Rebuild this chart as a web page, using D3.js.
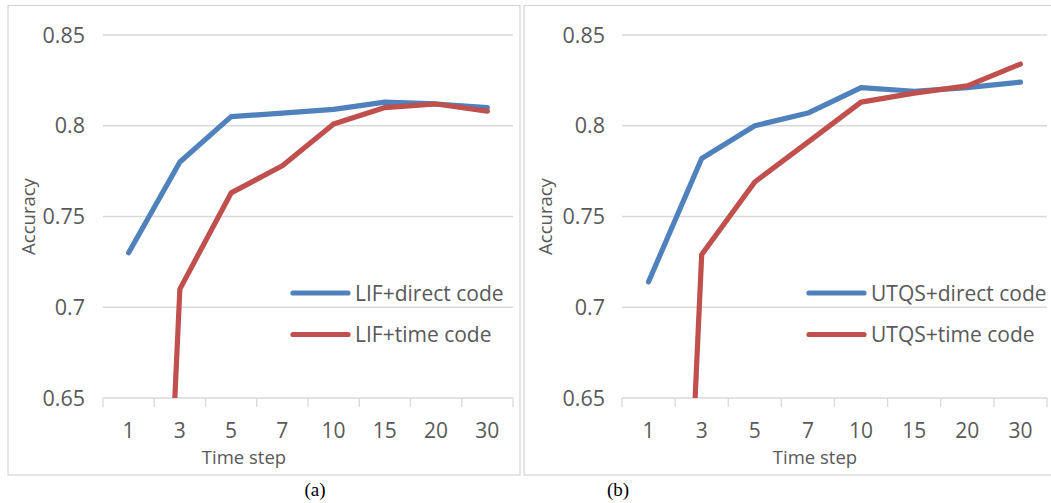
<!DOCTYPE html>
<html>
<head>
<meta charset="utf-8">
<script src="https://cdn.jsdelivr.net/npm/d3@7"></script>
<style>
  body { margin: 0; background: #fff; }
  text { font-family: "Open Sans", sans-serif; fill: #595959; }
</style>
</head>
<body>
<div id="chart"></div>
<script>
// time steps shared by both panels
var steps = ["1", "3", "5", "7", "10", "15", "20", "30"];
var yTicks = [0.65, 0.7, 0.75, 0.8, 0.85];

// (a) LIF neurons
var lifDirect = [0.730, 0.780, 0.805, 0.807, 0.809, 0.813, 0.812, 0.810];
var lifTime = [0.10, 0.710, 0.763, 0.778, 0.801, 0.810, 0.812, 0.808];

// (b) UTQS neurons
var utqsDirect = [0.714, 0.782, 0.800, 0.807, 0.821, 0.819, 0.821, 0.824];
var utqsTime = [0.09, 0.729, 0.769, 0.791, 0.813, 0.818, 0.822, 0.834];

var blue = "#4f81bd", red = "#c0504d";

var svg = d3.select("#chart").append("svg")
    .attr("width", 1051)
    .attr("height", 503);

var panels = [
    { id: "a", box: [8, 5.5, 520, 475], x0: 103, x1: 513, labelX: 85, accX: 29, titleX: 244,
      caption: "(a)", capX: 315, legX: 293,
      series: [{ name: "LIF+direct code", vals: lifDirect, color: blue },
               { name: "LIF+time code", vals: lifTime, color: red }] },
    { id: "b", box: [524, 5.5, 1060, 475], x0: 622, x1: 1047, labelX: 605, accX: 546, titleX: 815,
      caption: "(b)", capX: 618, legX: 809,
      series: [{ name: "UTQS+direct code", vals: utqsDirect, color: blue },
               { name: "UTQS+time code", vals: utqsTime, color: red }] }
];

panels.forEach(function (p) {
    var g = svg.append("g");

    // frame
    g.append("rect")
        .attr("x", p.box[0]).attr("y", p.box[1])
        .attr("width", p.box[2] - p.box[0]).attr("height", p.box[3] - p.box[1])
        .attr("fill", "none").attr("stroke", "#d9d9d9").attr("stroke-width", 1.3);

    var x = d3.scaleBand().domain(steps).range([p.x0, p.x1]);
    var y = d3.scaleLinear().domain([0.65, 0.85]).range([398, 35]);

    // gridlines
    g.selectAll(".grid")
        .data(yTicks.slice(1))
        .enter().append("line")
        .attr("x1", p.x0).attr("x2", p.x1)
        .attr("y1", function (d) { return y(d); })
        .attr("y2", function (d) { return y(d); })
        .attr("stroke", "#d9d9d9").attr("stroke-width", 1.3);

    // y labels
    g.selectAll(".ylab")
        .data(yTicks)
        .enter().append("text")
        .attr("x", p.labelX)
        .attr("y", function (d) { return y(d); })
        .attr("dy", "0.36em")
        .attr("text-anchor", "end")
        .style("font-size", "21.5px")
        .text(function (d) { return String(d); });

    // x axis line + boundary ticks
    g.append("line")
        .attr("x1", p.x0).attr("x2", p.x1)
        .attr("y1", y(0.65)).attr("y2", y(0.65))
        .attr("stroke", "#d9d9d9").attr("stroke-width", 1.3);

    g.selectAll(".xtick")
        .data(d3.range(steps.length + 1))
        .enter().append("line")
        .attr("x1", function (i) { return p.x0 + i * x.step(); })
        .attr("x2", function (i) { return p.x0 + i * x.step(); })
        .attr("y1", y(0.65)).attr("y2", y(0.65) + 9)
        .attr("stroke", "#d9d9d9").attr("stroke-width", 1.3);

    g.selectAll(".xlab")
        .data(steps)
        .enter().append("text")
        .attr("x", function (d) { return x(d) + x.bandwidth() / 2; })
        .attr("y", 437.5)
        .attr("text-anchor", "middle")
        .style("font-size", "21px")
        .text(function (d) { return d; });

    // axis titles
    g.append("text")
        .attr("x", p.titleX).attr("y", 464)
        .attr("text-anchor", "middle")
        .style("font-size", "18.5px")
        .text("Time step");

    g.append("text")
        .attr("transform", "translate(" + (p.accX + 6) + ",216.5) rotate(-90)")
        .attr("text-anchor", "middle")
        .style("font-size", "18.5px")
        .text("Accuracy");

    // lines, clipped to plot area
    g.append("clipPath").attr("id", "clip" + p.id)
        .append("rect")
        .attr("x", p.x0).attr("y", 0)
        .attr("width", p.x1 - p.x0).attr("height", y(0.65));

    var line = d3.line()
        .x(function (d, i) { return x(steps[i]) + x.bandwidth() / 2; })
        .y(function (d) { return y(d); });

    p.series.forEach(function (s) {
        g.append("path")
            .attr("clip-path", "url(#clip" + p.id + ")")
            .attr("d", line(s.vals))
            .attr("fill", "none")
            .attr("stroke", s.color)
            .attr("stroke-width", 5.2)
            .attr("stroke-linejoin", "round")
            .attr("stroke-linecap", "round");
    });

    // legend
    p.series.forEach(function (s, i) {
        var ly = 293 + i * 41.5;
        g.append("line")
            .attr("x1", p.legX).attr("x2", p.legX + 55)
            .attr("y1", ly).attr("y2", ly)
            .attr("stroke", s.color).attr("stroke-width", 5.2)
            .attr("stroke-linecap", "round");
        g.append("text")
            .attr("x", p.legX + 62).attr("y", ly)
            .attr("dy", "0.36em")
            .style("font-size", "21px")
            .text(s.name);
    });

    // caption
    svg.append("text")
        .attr("x", p.capX).attr("y", 496)
        .attr("text-anchor", "middle")
        .style("font-family", "'Liberation Serif', serif")
        .style("font-size", "19px")
        .style("fill", "#000")
        .text(p.caption);
});
</script>
</body>
</html>
